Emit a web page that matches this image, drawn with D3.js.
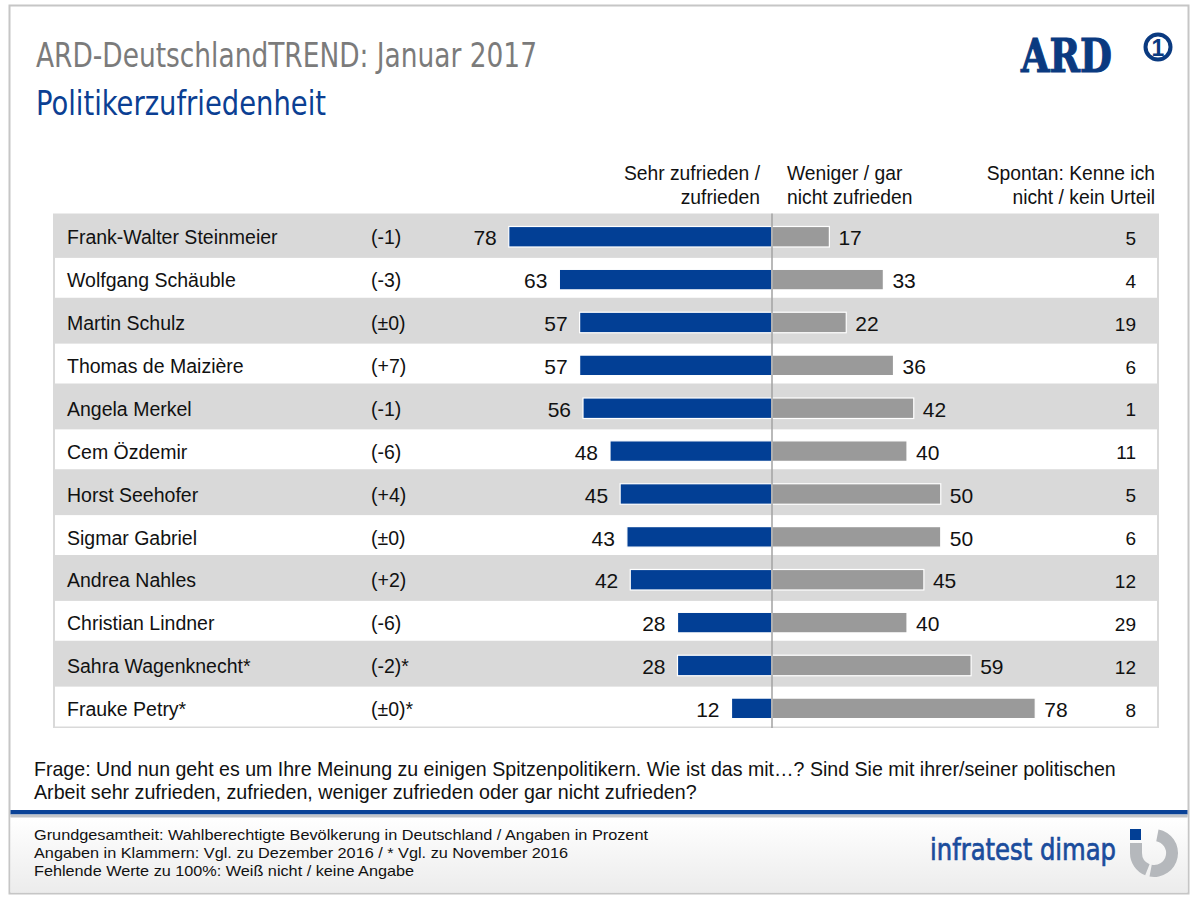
<!DOCTYPE html>
<html><head><meta charset="utf-8">
<script src="https://cdn.jsdelivr.net/npm/d3@7"></script>
<style>html,body{margin:0;padding:0;background:#fff;} svg{display:block}</style>
</head><body>
<script>
const names = ["Frank-Walter Steinmeier","Wolfgang Schäuble","Martin Schulz","Thomas de Maizière","Angela Merkel","Cem Özdemir","Horst Seehofer","Sigmar Gabriel","Andrea Nahles","Christian Lindner","Sahra Wagenknecht*","Frauke Petry*"];
const changes = ["(-1)","(-3)","(±0)","(+7)","(-1)","(-6)","(+4)","(±0)","(+2)","(-6)","(-2)*","(±0)*"];
const satisfied = [78,63,57,57,56,48,45,43,42,28,28,12];
const dissatisfied = [17,33,22,36,42,40,50,50,45,40,59,78];
const unknown = [5,4,19,6,1,11,5,6,12,29,12,8];
const headerSat = ["Sehr zufrieden /","zufrieden"];
const headerDis = ["Weniger / gar","nicht zufrieden"];
const headerUnk = ["Spontan: Kenne ich","nicht / kein Urteil"];
const titleText = "ARD-DeutschlandTREND: Januar 2017";
const subtitleText = "Politikerzufriedenheit";
const questionLines = ["Frage: Und nun geht es um Ihre Meinung zu einigen Spitzenpolitikern. Wie ist das mit…? Sind Sie mit ihrer/seiner politischen","Arbeit sehr zufrieden, zufrieden, weniger zufrieden oder gar nicht zufrieden?"];
const noteLines = ["Grundgesamtheit: Wahlberechtigte Bevölkerung in Deutschland / Angaben in Prozent","Angaben in Klammern: Vgl. zu Dezember 2016 / * Vgl. zu November 2016","Fehlende Werte zu 100%: Weiß nicht / keine Angabe"];

const W = 1200, H = 905;
const SANS = "'Liberation Sans', Arial, Helvetica, sans-serif";
const COND = "'Liberation Sans Narrow', 'DejaVu Sans Condensed', 'Open Sans', sans-serif";
const BLUE = "#023f95", GREY = "#9a9a9a", BAND = "#d9d9d9";

const svg = d3.select("body").append("svg").attr("width", W).attr("height", H)
  .style("font-family", SANS);

const defs = svg.append("defs");
const grad = defs.append("linearGradient").attr("id","foot").attr("x1",0).attr("y1",0).attr("x2",0).attr("y2",1);
grad.append("stop").attr("offset","0%").attr("stop-color","#ffffff");
grad.append("stop").attr("offset","100%").attr("stop-color","#ececec");

// frame
svg.append("rect").attr("x",9.5).attr("y",5.5).attr("width",1179).attr("height",888)
  .attr("fill","#fff").attr("stroke","#c6c6c6").attr("stroke-width",2);
svg.append("rect").attr("x",10.5).attr("y",817).attr("width",1177).attr("height",75.5).attr("fill","url(#foot)");
svg.append("rect").attr("x",10.5).attr("y",810).attr("width",1177).attr("height",4.5).attr("fill","#0a4297");
svg.append("rect").attr("x",10.5).attr("y",814.5).attr("width",1177).attr("height",3).attr("fill","#c2c4c8");

function fitLen(sel, target){ sel.attr("textLength", target).attr("lengthAdjust","spacingAndGlyphs"); return sel; }
function fitSize(sel, target){
  const fs = parseFloat(sel.attr("font-size"));
  const len = sel.node().getComputedTextLength();
  sel.attr("font-size", (fs*target/len).toFixed(2));
  return sel;
}

// titles
fitLen(svg.append("text").attr("x",36).attr("y",67).attr("font-family",COND).attr("font-size",34)
  .attr("fill","#7b7b7b").text(titleText), 501);
fitLen(svg.append("text").attr("x",36).attr("y",115).attr("font-family",COND).attr("font-size",33)
  .attr("fill","#0b3f93").text(subtitleText), 290);

// ARD logo
fitLen(svg.append("text").attr("x",1021).attr("y",72).attr("font-family","'DejaVu Serif', serif")
  .attr("font-weight","bold").attr("font-size",47).attr("fill","#0a3a80")
  .attr("stroke","#0a3a80").attr("stroke-width",1.2).text("ARD"), 91);
svg.append("circle").attr("cx",1158).attr("cy",47).attr("r",12.5).attr("fill","#fff")
  .attr("stroke","#0a3a80").attr("stroke-width",4);
svg.append("text").attr("x",1158).attr("y",55.5).attr("text-anchor","middle").attr("font-family",SANS)
  .attr("font-weight","bold").attr("font-size",23).attr("fill","#0a3a80").text("1");

// table geometry
const y = d3.scaleBand().domain(names).range([213.5, 728]).padding(0);
const cx = 772;
const xL = d3.scaleLinear().domain([0,100]).range([cx, cx-337.5]);
const xR = d3.scaleLinear().domain([0,100]).range([cx, cx+337.5]);

svg.append("rect").attr("x",53).attr("y",213.5).attr("width",1106).attr("height",514.5).attr("fill",BAND);
svg.append("g").selectAll("rect").data(names.filter((d,i)=>i%2===1)).join("rect")
  .attr("x",55).attr("y",d=>y(d)+1.5).attr("width",1102).attr("height",y.bandwidth()-3).attr("fill","#fff");

// headers
const hdr = svg.append("g").attr("font-size",19.3).attr("fill","#111");
headerSat.forEach((t,i)=>hdr.append("text").attr("x",760).attr("y",180+i*24).attr("text-anchor","end").text(t));
headerDis.forEach((t,i)=>hdr.append("text").attr("x",787).attr("y",180+i*24).text(t));
headerUnk.forEach((t,i)=>hdr.append("text").attr("x",1155).attr("y",180+i*24).attr("text-anchor","end").text(t));

const rows = svg.append("g").selectAll("g").data(names.map((n,i)=>({n,i}))).join("g")
  .attr("transform", d=>`translate(0,${y(d.n)+y.bandwidth()/2})`);
const BH = 20.5, BOFF = 1.8;
rows.append("rect").attr("x",d=>xL(satisfied[d.i])).attr("y",-BH/2+BOFF)
  .attr("width",d=>cx-xL(satisfied[d.i])).attr("height",BH).attr("fill",BLUE)
  .attr("stroke","#fff").attr("stroke-width",1.2);
rows.append("rect").attr("x",cx).attr("y",-BH/2+BOFF)
  .attr("width",d=>xR(dissatisfied[d.i])-cx).attr("height",BH).attr("fill",GREY)
  .attr("stroke","#fff").attr("stroke-width",1.2);
rows.append("text").attr("x",67).attr("y",9.5).attr("font-size",19.5).attr("fill","#111").text(d=>d.n);
rows.append("text").attr("x",371).attr("y",9.5).attr("font-size",19.5).attr("fill","#111").text(d=>changes[d.i]);
rows.append("text").attr("x",d=>xL(satisfied[d.i])-12).attr("y",10.5).attr("text-anchor","end")
  .attr("font-size",21).attr("fill","#111").text(d=>satisfied[d.i]);
rows.append("text").attr("x",d=>xR(dissatisfied[d.i])+9).attr("y",10.5)
  .attr("font-size",21).attr("fill","#111").text(d=>dissatisfied[d.i]);
rows.append("text").attr("x",1136).attr("y",10).attr("text-anchor","end")
  .attr("font-size",19).attr("fill","#111").text(d=>unknown[d.i]);

svg.append("line").attr("x1",cx).attr("x2",cx).attr("y1",213.5).attr("y2",728)
  .attr("stroke","#a2a2a2").attr("stroke-width",1.5);

// question
const qW = [1082, 663];
questionLines.forEach((t,i)=>{
  const s = svg.append("text").attr("x",34).attr("y",776+i*23).attr("font-size",18).attr("fill","#111").text(t);
  fitSize(s, qW[i]);
});
const nW = [614, 534, 380];
noteLines.forEach((t,i)=>{
  const s = svg.append("text").attr("x",34).attr("y",840+i*18).attr("font-size",15).attr("fill","#111").text(t);
  fitLen(s, nW[i]);
});

// infratest dimap logo
fitLen(svg.append("text").attr("x",930).attr("y",860).attr("font-family",COND).attr("font-size",31)
  .attr("fill","#1a4c9c").attr("stroke","#1a4c9c").attr("stroke-width",0.7).text("infratest dimap"), 186);
const ic = svg.append("g").attr("transform","translate(1154,853)");
const arc = d3.arc();
const ICG = "#b5b8bc";
ic.append("path").attr("d", arc({innerRadius:12, outerRadius:24, startAngle:0.06*Math.PI, endAngle:1.06*Math.PI})).attr("fill",ICG);
ic.append("path").attr("d", arc({innerRadius:12, outerRadius:24, startAngle:1.12*Math.PI, endAngle:1.5*Math.PI})).attr("fill",ICG);
ic.append("rect").attr("x",-24).attr("y",-10).attr("width",12).attr("height",10.5).attr("fill",ICG);
ic.append("rect").attr("x",-24).attr("y",-24).attr("width",11).attr("height",11).attr("fill","#023f95");
</script>
</body></html>
